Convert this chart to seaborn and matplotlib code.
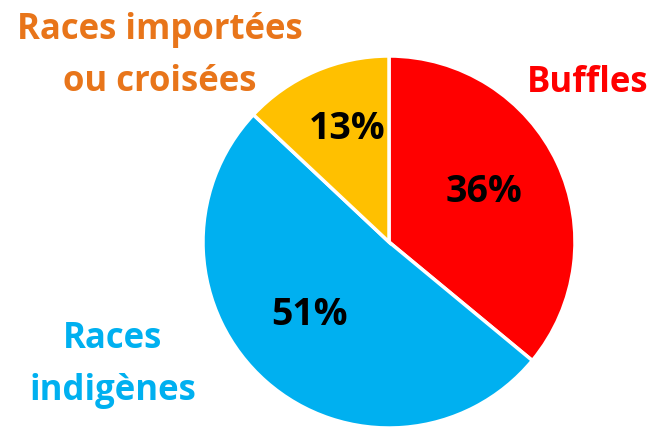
import matplotlib
matplotlib.use("Agg")
import matplotlib.pyplot as plt
import seaborn as sns

# Data
categories = ["Buffles", "Races\nindigènes", "Races importées\nou croisées"]
shares = [36, 51, 13]
pct_labels = ["36%", "51%", "13%"]
slice_colors = ["#FF0000", "#00B0F0", "#FFC000"]
label_colors = ["#FF0000", "#00B0F0", "#E8751A"]

sns.set_theme(style="white")
plt.rcParams['font.family'] = ['Open Sans', 'DejaVu Sans']

W, H = 654, 428
fig = plt.figure(figsize=(W / 100, H / 100), dpi=100)

# pie centre ~ (389, 242) px, radius ~ 186 px
cx, cy, r = 389, 242, 186
ax = fig.add_axes([(cx - r) / W, (H - cy - r) / H, 2 * r / W, 2 * r / H])
ax.pie(shares, colors=sns.color_palette(slice_colors), startangle=90,
       counterclock=False, radius=1,
       wedgeprops=dict(edgecolor="white", linewidth=2.5))
ax.set_xlim(-1, 1)
ax.set_ylim(-1, 1)
ax.set_aspect("equal")
ax.axis("off")

# percentage labels (centre x, baseline y in px)
pct_pos = [(484, 202), (309, 325), (347, 139)]
for txt, (x, y) in zip(pct_labels, pct_pos):
    fig.text(x / W, 1 - y / H, txt, ha="center", va="baseline",
             fontsize=27, fontweight="bold", color="black")

# category labels, one line at a time (centre x, first baseline y)
cat_pos = [(588, 92), (113, 348), (160, 39)]
line_gap = 52
for txt, (x, y), col in zip(categories, cat_pos, label_colors):
    for i, line in enumerate(txt.split("\n")):
        fig.text(x / W, 1 - (y + i * line_gap) / H, line, ha="center",
                 va="baseline", fontsize=25, fontweight="bold", color=col)

fig.savefig("out.png", dpi=100)
